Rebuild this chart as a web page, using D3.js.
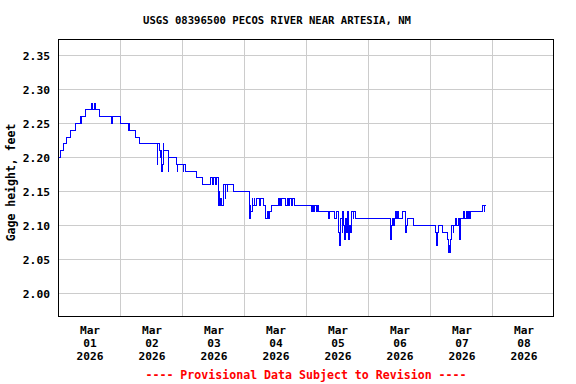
<!DOCTYPE html>
<html>
<head>
<meta charset="utf-8">
<script src="https://cdn.jsdelivr.net/npm/d3@7"></script>
<style>
  html, body { margin: 0; padding: 0; background: #fff; }
  svg { display: block; }
  text { font-family: "DejaVu Sans Mono", "Liberation Mono", monospace; font-weight: bold; }
</style>
</head>
<body>
<svg id="chart" width="576" height="384"></svg>
<script>
// ---------------- data ----------------
const title = "USGS 08396500 PECOS RIVER NEAR ARTESIA, NM";
const yLabel = "Gage height, feet";
const footnote = "---- Provisional Data Subject to Revision ----";
const startDate = "2026-03-01T00:00:00";
const dayLabels = ["Mar\n01\n2026", "Mar\n02\n2026", "Mar\n03\n2026", "Mar\n04\n2026",
                   "Mar\n05\n2026", "Mar\n06\n2026", "Mar\n07\n2026", "Mar\n08\n2026"];
const yTicks = [2.00, 2.05, 2.10, 2.15, 2.20, 2.25, 2.30, 2.35];
// hours after Mar 01 00:00 at which the gage reading changed
const hours = [
  0, 0.75, 1.75, 3.0, 4.5, 6.75, 8.5, 8.75, 9.0, 10.5, 12.75, 13.25, 13.75, 14.25, 16.0,
  20.5, 20.75, 24.0, 27.0, 27.25, 27.5, 29.75, 31.25,
  38.25, 38.5, 39.0, 39.5, 39.75, 40.0, 40.25, 40.5, 40.75, 41.0, 42.5, 42.75,
  45.75, 46.0, 46.25, 48.25, 48.5, 49.0, 53.25, 55.75,
  59.0, 59.75, 60.0, 60.75, 61.0, 61.75, 62.0, 62.25, 62.5, 62.75, 63.25, 63.75,
  64.5, 64.75, 65.25, 65.5, 67.75,
  73.75, 74.0, 74.25, 74.5, 75.0, 75.25, 75.75, 76.0, 76.5, 77.75, 78.0, 79.25,
  80.25, 80.75, 81.25, 81.75, 82.5, 85.0, 85.5, 85.75, 86.0, 86.25, 87.75,
  88.5, 89.0, 89.5, 90.0, 90.5, 91.25,
  97.75, 98.25, 98.75, 99.25, 99.75, 100.25, 100.75, 104.5, 104.75, 107.0, 107.5,
  108.25, 108.5, 108.75, 109.0, 109.25, 109.75, 110.0, 110.5, 110.75, 111.0, 111.5,
  111.75, 112.25, 112.5, 113.0, 113.5, 114.0, 114.25, 115.0,
  128.5, 128.75, 129.25, 129.75, 130.25, 130.5, 131.0, 131.25, 131.75, 133.0,
  134.25, 134.5, 134.75, 135.25, 137.5,
  146.0, 146.5, 146.75, 147.0, 148.5, 150.75, 151.0, 151.25, 151.5, 151.75,
  152.25, 152.75, 153.0, 153.75, 154.25, 154.75, 155.25, 155.5,
  156.75, 157.25, 157.75, 158.25, 158.75, 159.25, 159.5, 164.25, 164.75, 165.0, 165.5
];
const gageHeight = [
  2.20, 2.21, 2.22, 2.23, 2.24, 2.25, 2.26, 2.25, 2.26, 2.27, 2.28, 2.27, 2.28, 2.27, 2.26,
  2.25, 2.26, 2.25, 2.24, 2.25, 2.24, 2.23, 2.22,
  2.19, 2.22, 2.21, 2.20, 2.21, 2.18, 2.19, 2.22, 2.21, 2.21, 2.18, 2.20,
  2.19, 2.18, 2.19, 2.18, 2.19, 2.18, 2.17, 2.16,
  2.17, 2.16, 2.17, 2.16, 2.17, 2.16, 2.13, 2.15, 2.13, 2.14, 2.13, 2.16,
  2.14, 2.16, 2.15, 2.16, 2.15,
  2.12, 2.11, 2.13, 2.12, 2.14, 2.13, 2.14, 2.13, 2.14, 2.13, 2.14, 2.13,
  2.11, 2.12, 2.11, 2.12, 2.13, 2.14, 2.13, 2.14, 2.13, 2.14, 2.13,
  2.14, 2.13, 2.14, 2.13, 2.14, 2.13,
  2.12, 2.13, 2.12, 2.13, 2.12, 2.13, 2.12, 2.11, 2.12, 2.11, 2.12,
  2.10, 2.09, 2.07, 2.10, 2.11, 2.09, 2.12, 2.10, 2.08, 2.11, 2.09,
  2.12, 2.08, 2.10, 2.09, 2.12, 2.11, 2.12, 2.11,
  2.08, 2.10, 2.11, 2.10, 2.11, 2.12, 2.11, 2.12, 2.11, 2.12,
  2.10, 2.09, 2.10, 2.11, 2.10,
  2.09, 2.07, 2.09, 2.10, 2.09, 2.08, 2.06, 2.07, 2.06, 2.08,
  2.10, 2.09, 2.10, 2.11, 2.10, 2.11, 2.08, 2.11,
  2.12, 2.11, 2.12, 2.11, 2.12, 2.11, 2.12, 2.13, 2.12, 2.13, 2.13
];

// ---------------- layout ----------------
const W = 576, H = 384;
const plot = { left: 58.5, right: 553.5, top: 39.5, bottom: 316.5 };
const t0 = new Date(startDate);
const hourMs = 3600 * 1000;
const toDate = h => new Date(t0.getTime() + h * hourMs);

const x = d3.scaleTime()
  .domain([t0, toDate(24 * 8)])
  .range([58.5, 554.5]);
const y = d3.scaleLinear()
  .domain([2.00 - 23 / 680, 2.00 + 254 / 680])
  .range([plot.bottom, plot.top]);

const svg = d3.select("#chart");
svg.append("rect").attr("width", W).attr("height", H).attr("fill", "#fff");

// grid
const grid = svg.append("g").attr("shape-rendering", "crispEdges");
const dayTicks = d3.range(1, 8).map(d => toDate(d * 24));
grid.selectAll("line.v").data(dayTicks).join("line")
  .attr("x1", d => Math.round(x(d) - 0.5) + 0.5).attr("x2", d => Math.round(x(d) - 0.5) + 0.5)
  .attr("y1", plot.top).attr("y2", plot.bottom)
  .attr("stroke", "#cccccc").attr("stroke-width", 1);
grid.selectAll("line.h").data(yTicks).join("line")
  .attr("x1", plot.left).attr("x2", plot.right)
  .attr("y1", d => Math.round(y(d) - 0.5) + 0.5).attr("y2", d => Math.round(y(d) - 0.5) + 0.5)
  .attr("stroke", "#cccccc").attr("stroke-width", 1);

// data line
svg.append("clipPath").attr("id", "clip").append("rect")
  .attr("x", plot.left).attr("y", plot.top)
  .attr("width", plot.right - plot.left).attr("height", plot.bottom - plot.top);
const pts = hours.map((h, i) => [toDate(h), gageHeight[i]]);
const line = d3.line()
  .x(d => x(d[0]))
  .y(d => y(d[1]))
  .curve(d3.curveStepAfter);
svg.append("path")
  .datum(pts)
  .attr("clip-path", "url(#clip)")
  .attr("d", line)
  .attr("fill", "none")
  .attr("stroke", "#0000ff")
  .attr("stroke-width", 1)
  .attr("shape-rendering", "crispEdges");

// frame
svg.append("rect")
  .attr("x", plot.left).attr("y", plot.top)
  .attr("width", plot.right - plot.left).attr("height", plot.bottom - plot.top)
  .attr("fill", "none").attr("stroke", "#000").attr("stroke-width", 1)
  .attr("shape-rendering", "crispEdges");

// y axis labels
const yAxis = d3.axisLeft(y).tickValues(yTicks).tickFormat(d3.format(".2f")).tickSize(0).tickPadding(0);
const gy = svg.append("g").attr("transform", "translate(50,0)").call(yAxis);
gy.select(".domain").remove();
gy.selectAll("text").attr("font-size", "11.3px").attr("fill", "#000")
  .attr("font-family", "DejaVu Sans Mono").attr("font-weight", "bold").attr("dy", "0.36em");

// x axis labels (centred at noon of each day)
const noonTicks = d3.range(0, 8).map(d => toDate(d * 24 + 12));
const xAxis = d3.axisBottom(x).tickValues(noonTicks).tickSize(0).tickFormat(() => "");
const gx = svg.append("g").call(xAxis);
gx.select(".domain").remove();
gx.selectAll(".tick").each(function (d, i) {
  const t = d3.select(this).select("text")
    .attr("y", 0).attr("dy", null)
    .attr("font-size", "11.2px").attr("fill", "#000")
    .attr("font-family", "DejaVu Sans Mono").attr("font-weight", "bold")
    .attr("text-anchor", "middle");
  dayLabels[i].split("\n").forEach((s, k) => {
    t.append("tspan").attr("x", 0).attr("y", 334 + k * 13).text(s);
  });
});

// title
svg.append("text").attr("x", 277).attr("y", 24)
  .attr("text-anchor", "middle").attr("font-size", "10.6px").attr("fill", "#000")
  .text(title);

// y label
svg.append("text")
  .attr("transform", "translate(15,182.5) rotate(-90)")
  .attr("text-anchor", "middle").attr("font-size", "11.5px").attr("fill", "#000")
  .text(yLabel);

// footnote
svg.append("text").attr("x", 306).attr("y", 379)
  .attr("text-anchor", "middle").attr("font-size", "11.6px").attr("fill", "#ff0000")
  .text(footnote);
</script>
</body>
</html>
